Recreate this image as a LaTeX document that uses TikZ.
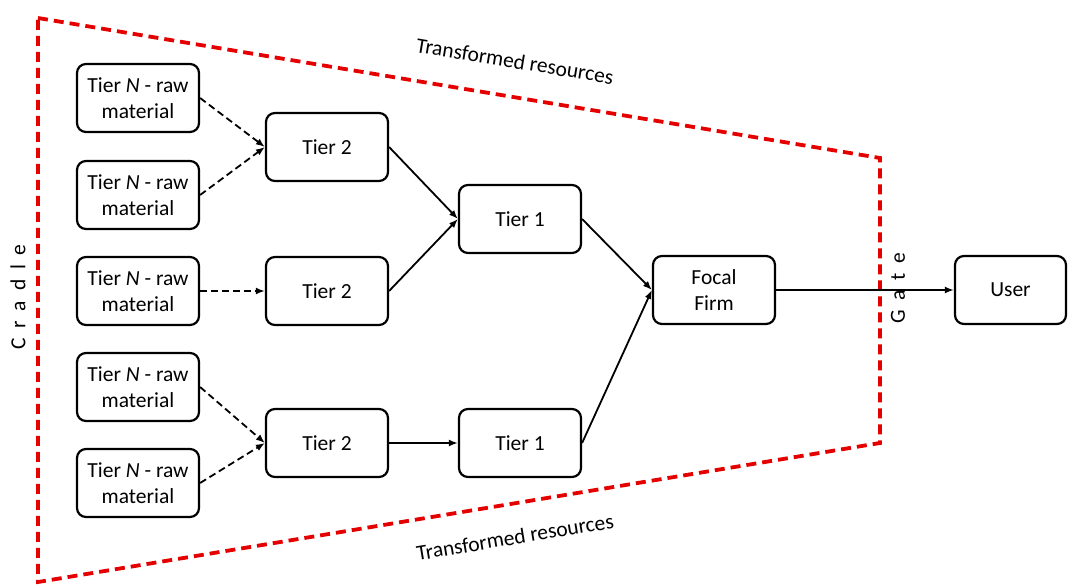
\documentclass[tikz,border=0pt]{standalone}
\usepackage{fontspec}
\setmainfont{Carlito}
\newfontfamily\spacedfont[WordSpace=2]{Carlito}
\usetikzlibrary{arrows.meta}

\begin{document}
\begin{tikzpicture}[
    x=1pt, y=-1pt,
    % === STYLES ===
    tier box/.style={draw, line width=2.2pt, rounded corners=9pt, minimum width=122pt,
        minimum height=68pt, align=center, inner sep=2pt,
        font=\fontsize{21.5}{26.5}\selectfont},
    supply arrow/.style={line width=1.8pt, -{Latex[length=9pt,width=7pt]}},
    raw arrow/.style={supply arrow, dash pattern=on 7pt off 4pt},
    boundary line/.style={red!90!black, line width=3.8pt, dash pattern=on 10pt off 6pt},
    side label/.style={font=\spacedfont\fontsize{21.5}{26.5}\selectfont},
    edge label/.style={font=\fontsize{21.5}{26.5}\selectfont},
]
    \useasboundingbox (0,0) rectangle (1068,584);

    % === BOUNDARY (cradle to gate) ===
    \coordinate (cradleTop) at (38,18);
    \coordinate (gateTop) at (880,158);
    \coordinate (gateBottom) at (880,443);
    \coordinate (cradleBottom) at (38,582);
    \draw[boundary line] (cradleTop) -- (gateTop) -- (gateBottom) -- (cradleBottom) -- cycle;

    % === RAW MATERIAL SUPPLIERS ===
    \node[tier box] (rawA) at (138,98)  {Tier \textit{N} - raw\\material};
    \node[tier box] (rawB) at (138,195) {Tier \textit{N} - raw\\material};
    \node[tier box] (rawC) at (138,291) {Tier \textit{N} - raw\\material};
    \node[tier box] (rawD) at (138,387) {Tier \textit{N} - raw\\material};
    \node[tier box] (rawE) at (138,483) {Tier \textit{N} - raw\\material};

    % === TIER 2 / TIER 1 ===
    \node[tier box] (tierTwoA) at (327,147) {Tier 2};
    \node[tier box] (tierTwoB) at (327,291) {Tier 2};
    \node[tier box] (tierTwoC) at (327,443) {Tier 2};
    \node[tier box] (tierOneA) at (520,219) {Tier 1};
    \node[tier box] (tierOneB) at (520,443) {Tier 1};

    % === FOCAL FIRM AND USER ===
    \node[tier box] (focal) at (714,290) {Focal\\Firm};
    \node[tier box, minimum width=111pt] (user) at (1010.5,290) {User};

    % === FLOWS ===
    \draw[raw arrow] (rawA.east) -- (tierTwoA.west);
    \draw[raw arrow] (rawB.east) -- (tierTwoA.west);
    \draw[raw arrow] (rawC.east) -- (tierTwoB.west);
    \draw[raw arrow] (rawD.east) -- (tierTwoC.west);
    \draw[raw arrow] (rawE.east) -- (tierTwoC.west);
    \draw[supply arrow] (tierTwoA.east) -- (tierOneA.west);
    \draw[supply arrow] (tierTwoB.east) -- (tierOneA.west);
    \draw[supply arrow] (tierTwoC.east) -- (tierOneB.west);
    \draw[supply arrow] (tierOneA.east) -- (focal.west);
    \draw[supply arrow] (tierOneB.east) -- (focal.west);
    \draw[supply arrow] (focal.east) -- (user.west);

    % === LABELS ===
    \node[side label, rotate=90] (cradle) at (18,297) {C r a d l e};
    \node[side label, rotate=90] (gate) at (898,288) {G a t e};
    \node[edge label, rotate=-9.4] (inTop) at (515,61) {Transformed resources};
    \node[edge label, rotate=9.4] (inBottom) at (515,537) {Transformed resources};

\end{tikzpicture}
\end{document}
